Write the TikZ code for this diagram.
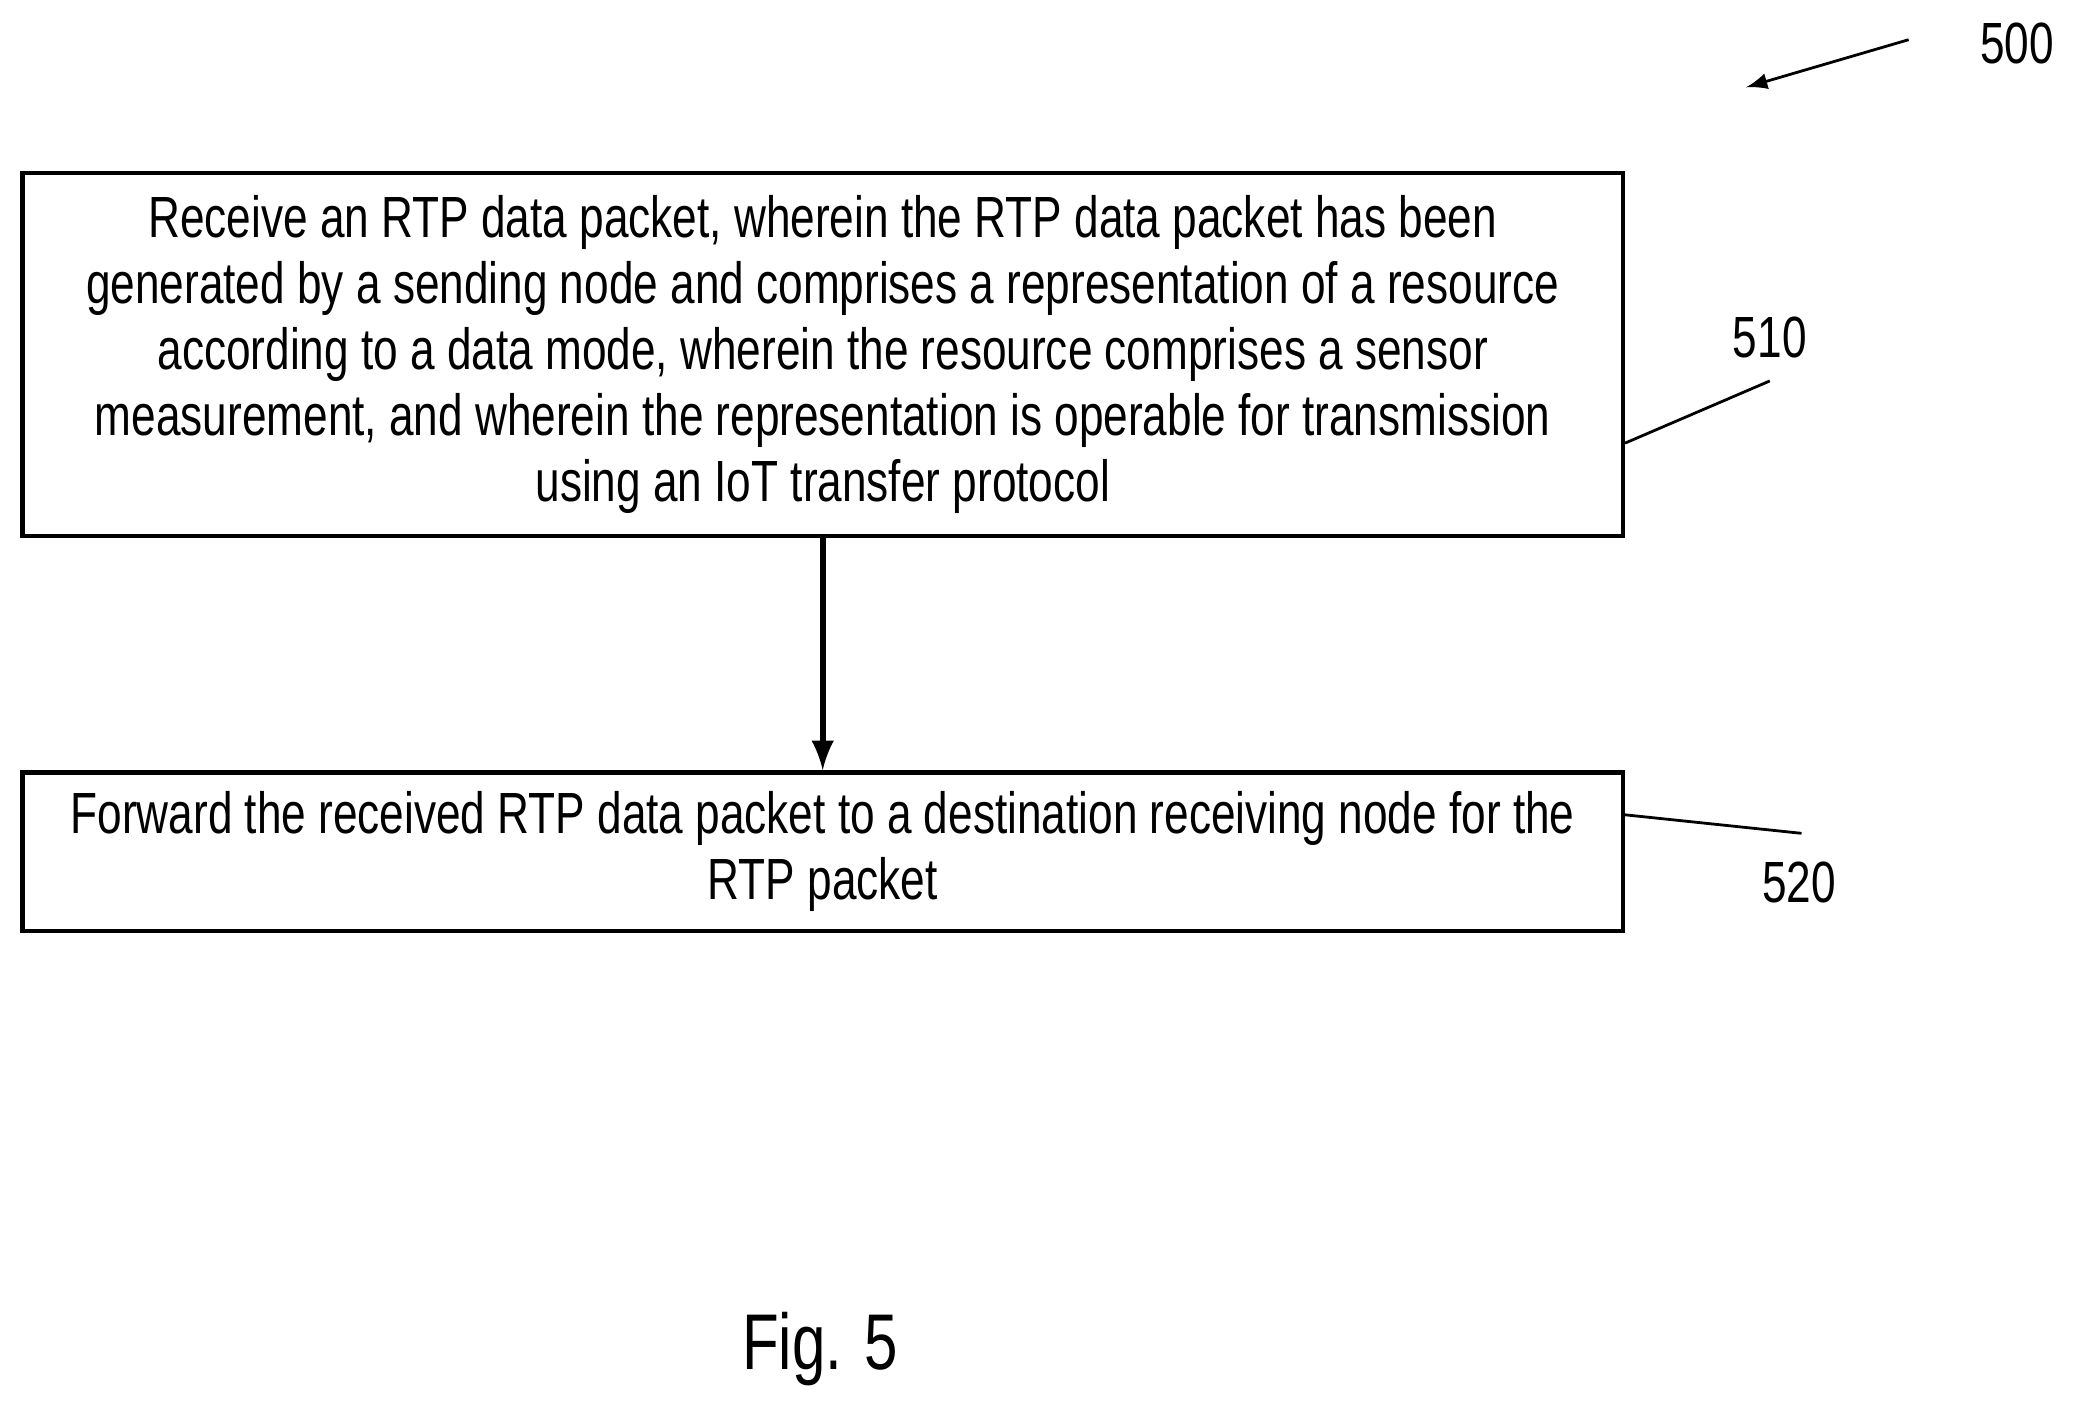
\documentclass[tikz,border=0pt]{standalone}
\usepackage{fontspec}
\setmainfont{Liberation Sans}[FakeStretch=0.76]
\begin{document}
\begin{tikzpicture}[x=0.1mm,y=-0.1mm,
  box/.style={draw,line width=0.9pt,inner sep=0},
  txt/.style={font=\fontsize{12.5}{14.2}\selectfont,align=center},
  lbl/.style={font=\fontsize{12.5}{14}\selectfont},
  ln/.style={line width=0.6pt}]
\useasboundingbox (0,0) rectangle (1568,1066);
\node[box,minimum width=1210*0.1mm,minimum height=274*0.1mm] (b1) at (622,268) {};
\node[txt] (t1) at (622,268) {Receive an RTP data packet, wherein the RTP data packet has been\\generated by a sending node and comprises a representation of a resource\\according to a data mode, wherein the resource comprises a sensor\\measurement, and wherein the representation is operable for transmission\\using an IoT transfer protocol};
\node[box,minimum width=1210*0.1mm,minimum height=120*0.1mm] (b2) at (622,644) {};
\node[txt] (t2) at (622,644) {Forward the received RTP data packet to a destination receiving node for the\\RTP packet};
\draw[line width=1.2pt,-latex] (b1.south) -- (b2.north);
\node[lbl] (l510) at (1338,255) {510};
\coordinate (c510) at (1338,288);
\draw[ln] (b1.east |- 0,335) -- (c510);
\node[lbl] (l520) at (1360,667) {520};
\coordinate (c520) at (1362,630);
\draw[ln] (b2.east |- 0,616) -- (c520);
\node[lbl] (l500) at (1525,33) {500};
\coordinate (c500) at (1443,30);
\coordinate (e500) at (1320,66);
\draw[ln,-latex] (c500) -- (e500);
\node[font=\fontsize{17}{20}\selectfont] (fig) at (620,1020) {Fig. 5};
\end{tikzpicture}
\end{document}
